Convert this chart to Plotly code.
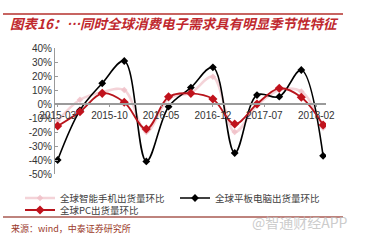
import plotly.graph_objects as go

# ---- data ----
dates = ["2015-03-01", "2015-06-01", "2015-09-01", "2015-12-01",
         "2016-03-01", "2016-06-01", "2016-09-01", "2016-12-01",
         "2017-03-01", "2017-06-01", "2017-09-01", "2017-12-01",
         "2018-03-01"]
phone = [-12, 3, 8.5, 10, -20, 4, 8, 19.5, -20, -1, 10, 9, -17]
tablet = [-40, -4.5, 14.8, 30.7, -41, -1.9, 11.7, 26.2, -35, 6.4, 5.2, 24.3, -37]
pc = [-15.7, -5.5, 7.6, 1.2, -17.9, 5.2, 7.6, 3.6, -14.3, 0, 11.2, 4.8, -15]

x_tickvals = ["2015-03-01", "2015-10-01", "2016-05-01", "2016-12-01", "2017-07-01", "2018-02-01"]
x_ticktext = ["2015-03", "2015-10", "2016-05", "2016-12", "2017-07", "2018-02"]
y_tickvals = [40, 30, 20, 10, 0, -10, -20, -30, -40, -50]
y_ticktext = ["40%", "30%", "20%", "10%", "0%", "-10%", "-20%", "-30%", "-40%", "-50%"]

names = ["全球智能手机出货量环比", "全球平板电脑出货量环比", "全球PC出货量环比"]
title_text = "图表16：…同时全球消费电子需求具有明显季节性特征"
source_text = "来源：wind，中泰证券研究所"
watermark = "@智通财经APP"

# ---- layout geometry (pixels) ----
W, H = 367, 241
L, R, T, B = 55, 41, 48, 67
pw, ph = W - L - R, H - T - B


def X(px):
    return (px - L) / pw


def Y(py):
    return (H - B - py) / ph


CJK = "Noto Sans CJK SC"
fig = go.Figure()

fig.add_trace(go.Scatter(
    x=dates, y=phone, name=names[0], mode="lines+markers",
    line=dict(color="rgba(240,192,200,0.7)", width=2.5, shape="spline"),
    marker=dict(symbol="diamond", size=5, color="rgba(240,192,200,0.85)"),
    legend="legend"))
fig.add_trace(go.Scatter(
    x=dates, y=tablet, name=names[1], mode="lines+markers",
    line=dict(color="#000000", width=1.6, shape="spline"),
    marker=dict(symbol="diamond", size=6, color="#000000"),
    legend="legend2"))
fig.add_trace(go.Scatter(
    x=dates, y=pc, name=names[2], mode="lines+markers",
    line=dict(color="#b8141c", width=1.8, shape="spline"),
    marker=dict(symbol="diamond", size=7, color="#c0121c"),
    legend="legend3"))

legend_common = dict(font=dict(family=CJK, size=9.5, color="#404040"),
                     bgcolor="rgba(0,0,0,0)", itemwidth=30,
                     xanchor="left", yanchor="middle", tracegroupgap=0)

fig.update_layout(
    width=W, height=H,
    margin=dict(l=L, r=R, t=T, b=B, pad=0),
    paper_bgcolor="white", plot_bgcolor="white",
    showlegend=True,
    legend=dict(x=X(20), y=Y(198), **legend_common),
    legend2=dict(x=X(175), y=Y(198), **legend_common),
    legend3=dict(x=X(20), y=Y(210), **legend_common),
    xaxis=dict(
        type="date", range=["2015-02-18", "2018-03-13"],
        tickvals=x_tickvals, ticktext=x_ticktext,
        anchor="free", position=Y(104),
        showline=True, linecolor="#9a9a9a", linewidth=1.5,
        ticks="outside", ticklen=2, tickcolor="#9a9a9a",
        showgrid=False, zeroline=False,
        tickfont=dict(family="Liberation Sans", size=10, color="#333333"),
    ),
    yaxis=dict(
        range=[-50, 40], tickvals=y_tickvals, ticktext=y_ticktext,
        showline=True, linecolor="#9a9a9a", linewidth=1,
        ticks="inside", ticklen=3, tickcolor="#9a9a9a",
        showgrid=False, zeroline=False,
        tickfont=dict(family="Liberation Sans", size=10, color="#333333"),
    ),
)

# title + decorative lines
fig.add_shape(type="line", xref="paper", yref="paper",
              x0=X(3), x1=X(343), y0=Y(14), y1=Y(14),
              line=dict(color="#b5302c", width=1.5))
fig.add_shape(type="line", xref="paper", yref="paper",
              x0=X(3), x1=X(343), y0=Y(217), y1=Y(217),
              line=dict(color="#a85a52", width=1.5))
fig.add_annotation(xref="paper", yref="paper", x=X(8), y=Y(23),
                   xanchor="left", yanchor="middle", showarrow=False,
                   text="<b><i>" + title_text + "</i></b>",
                   font=dict(family=CJK, size=13.5, color="#c0282d"))
fig.add_annotation(xref="paper", yref="paper", x=X(9), y=Y(228),
                   xanchor="left", yanchor="middle", showarrow=False,
                   text=source_text,
                   font=dict(family=CJK, size=9, color="#9b3a2a"))
fig.add_annotation(xref="paper", yref="paper", x=X(250), y=Y(222),
                   xanchor="left", yanchor="middle", showarrow=False,
                   text=watermark,
                   font=dict(family=CJK, size=14, color="rgba(190,190,190,0.8)"))

fig.write_html("out.html")
